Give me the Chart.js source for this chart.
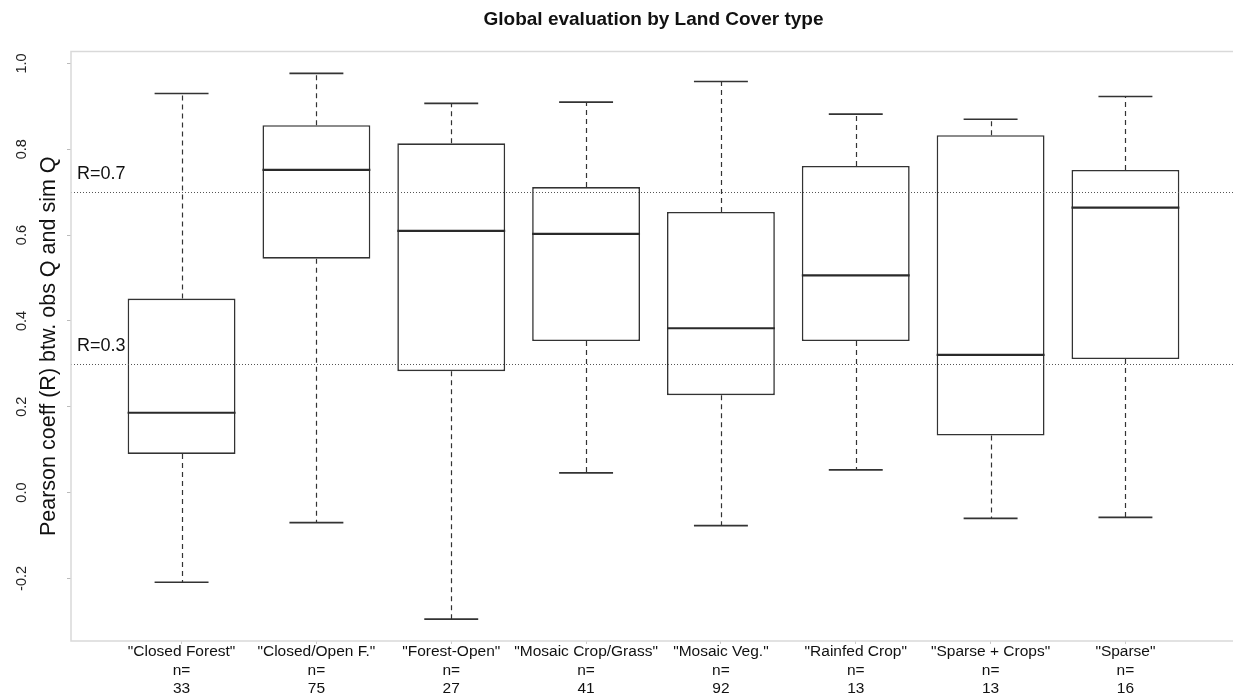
<!DOCTYPE html>
<html>
<head>
<meta charset="utf-8">
<title>Global evaluation by Land Cover type</title>
<script src="https://cdn.jsdelivr.net/npm/chart.js@4.4.1/dist/chart.umd.min.js"></script>
<style>
  html, body { margin: 0; padding: 0; background: #ffffff; overflow: hidden; }
  #wrap { width: 1233px; height: 700px; overflow: hidden; position: relative; }
  canvas { display: block; }
</style>
</head>
<body>
<div id="wrap"><canvas id="chart" width="1240" height="700"></canvas></div>
<script>
// Land cover classes and number of catchments in each
const categories = ['"Closed Forest"', '"Closed/Open F."', '"Forest-Open"', '"Mosaic Crop/Grass"',
                    '"Mosaic Veg."', '"Rainfed Crop"', '"Sparse + Crops"', '"Sparse"'];
const counts = [33, 75, 27, 41, 92, 13, 13, 16];

// Five-number summaries of Pearson R per class
const whiskerLow  = [-0.209, -0.070, -0.295, 0.046, -0.077, 0.053, -0.060, -0.058];
const q1          = [ 0.090,  0.545,  0.283, 0.353,  0.227, 0.353,  0.133,  0.311];
const median      = [ 0.186,  0.752,  0.610, 0.603,  0.383, 0.506,  0.321,  0.664];
const q3          = [ 0.452,  0.856,  0.814, 0.712,  0.654, 0.761,  0.833,  0.752];
const whiskerHigh = [ 0.930,  0.977,  0.907, 0.910,  0.958, 0.882,  0.870,  0.923];

// Axis ticks and reference thresholds
const yTicks = [-0.2, 0.0, 0.2, 0.4, 0.6, 0.8, 1.0];
const refLines = [0.7, 0.3];
const refLabels = ['R=0.7', 'R=0.3'];

const FONT = "'Liberation Sans', Arial, Helvetica, sans-serif";
const INK = '#333333';

// axis limits: data range widened by 4% on each side, boxes sit at 1..n
const dataMin = Math.min(...whiskerLow);
const dataMax = Math.max(...whiskerHigh);
const yPad = (dataMax - dataMin) * 0.04;
const xPad = categories.length * 0.04;

const boxData = categories.map((c, i) => ({ x: i + 1, y: [q1[i], q3[i]] }));

// whiskers, caps, medians, reference lines, frame and y-axis title
const boxplotExtras = {
  id: 'boxplotExtras',
  beforeDatasetsDraw(chart) {
    const { ctx, scales: { x, y } } = chart;
    ctx.save();
    categories.forEach((c, i) => {
      const cx = Math.round(x.getPixelForValue(i + 1)) + 0.5;
      const capL = x.getPixelForValue(i + 1 - 0.2);
      const capR = x.getPixelForValue(i + 1 + 0.2);
      const yHi = y.getPixelForValue(whiskerHigh[i]);
      const yLo = y.getPixelForValue(whiskerLow[i]);
      const yQ3 = y.getPixelForValue(q3[i]);
      const yQ1 = y.getPixelForValue(q1[i]);
      ctx.strokeStyle = INK;
      ctx.lineWidth = 1.2;
      ctx.setLineDash([5, 4]);
      ctx.beginPath();
      ctx.moveTo(cx, yQ3); ctx.lineTo(cx, yHi);
      ctx.moveTo(cx, yQ1); ctx.lineTo(cx, yLo);
      ctx.stroke();
      ctx.setLineDash([]);
      ctx.lineWidth = 1.7;
      ctx.beginPath();
      ctx.moveTo(capL, yHi); ctx.lineTo(capR, yHi);
      ctx.moveTo(capL, yLo); ctx.lineTo(capR, yLo);
      ctx.stroke();
    });
    ctx.restore();
  },
  afterDatasetsDraw(chart) {
    const { ctx, chartArea: a, scales: { x, y } } = chart;
    ctx.save();
    // medians
    ctx.strokeStyle = '#2a2a2a';
    ctx.lineWidth = 2.2;
    categories.forEach((c, i) => {
      const ym = y.getPixelForValue(median[i]);
      ctx.beginPath();
      ctx.moveTo(x.getPixelForValue(i + 1 - 0.4), ym);
      ctx.lineTo(x.getPixelForValue(i + 1 + 0.4), ym);
      ctx.stroke();
    });
    // dotted threshold lines with labels
    refLines.forEach((v, k) => {
      const yy = Math.round(y.getPixelForValue(v)) + 0.5;
      ctx.strokeStyle = '#555555';
      ctx.lineWidth = 1;
      ctx.setLineDash([1, 2]);
      ctx.beginPath();
      ctx.moveTo(a.left, yy); ctx.lineTo(a.right, yy);
      ctx.stroke();
      ctx.setLineDash([]);
      ctx.fillStyle = '#111111';
      ctx.font = '18px ' + FONT;
      ctx.textAlign = 'left';
      ctx.textBaseline = 'alphabetic';
      ctx.fillText(refLabels[k], a.left + 6, yy - 14);
    });
    ctx.restore();
  },
  afterDraw(chart) {
    const { ctx, chartArea: a } = chart;
    ctx.save();
    ctx.strokeStyle = '#d9d9d9';
    ctx.lineWidth = 1.5;
    ctx.strokeRect(a.left, a.top, a.right - a.left, a.bottom - a.top);
    // y-axis title sits between the tick labels and the plot frame
    ctx.translate(49, (a.top + a.bottom) / 2);
    ctx.rotate(-Math.PI / 2);
    ctx.fillStyle = '#111111';
    ctx.font = '21.5px ' + FONT;
    ctx.textAlign = 'center';
    ctx.textBaseline = 'middle';
    ctx.fillText('Pearson coeff (R) btw. obs Q and sim Q', 0, 0);
    ctx.restore();
  }
};

new Chart(document.getElementById('chart'), {
  type: 'bar',
  data: {
    datasets: [{
      data: boxData,
      backgroundColor: '#ffffff',
      borderColor: INK,
      borderWidth: 1.6,
      borderSkipped: false,
      barPercentage: 0.8,
      categoryPercentage: 1.0
    }]
  },
  options: {
    responsive: false,
    animation: false,
    events: [],
    layout: { padding: { top: 0.7, left: 0, right: 4, bottom: 0 } },
    plugins: {
      legend: { display: false },
      tooltip: { enabled: false },
      title: {
        display: true,
        fullSize: false,
        text: 'Global evaluation by Land Cover type',
        color: '#111111',
        font: { family: FONT, size: 19, weight: 'bold' },
        padding: { top: 8, bottom: 20 }
      }
    },
    scales: {
      x: {
        type: 'linear',
        offset: false,
        min: 1 - 0.5 - xPad,
        max: categories.length + 0.5 + xPad,
        afterBuildTicks: (s) => { s.ticks = categories.map((c, i) => ({ value: i + 1 })); },
        afterFit: (s) => { s.height = 59; },
        grid: { offset: false, drawOnChartArea: false, drawTicks: true, tickLength: 3, color: '#cccccc' },
        border: { display: false },
        ticks: {
          autoSkip: false,
          minRotation: 0,
          maxRotation: 0,
          padding: -1.5,
          color: '#111111',
          font: { family: FONT, size: 15.5, lineHeight: 1.2 },
          callback: (v) => {
            const i = Math.round(v) - 1;
            return [categories[i], 'n=', String(counts[i])];
          }
        }
      },
      y: {
        min: dataMin - yPad,
        max: dataMax + yPad,
        afterBuildTicks: (s) => { s.ticks = yTicks.map(v => ({ value: v })); },
        afterFit: (s) => { s.width = 71; },
        grid: { drawOnChartArea: false, drawTicks: true, tickLength: 4, color: '#bbbbbb' },
        border: { display: false },
        ticks: {
          minRotation: 90,
          maxRotation: 90,
          crossAlign: 'center',
          padding: 33,
          color: '#222222',
          font: { family: FONT, size: 14.5 },
          callback: (v) => Number(v).toFixed(1)
        }
      }
    }
  },
  plugins: [boxplotExtras]
});
</script>
</body>
</html>
